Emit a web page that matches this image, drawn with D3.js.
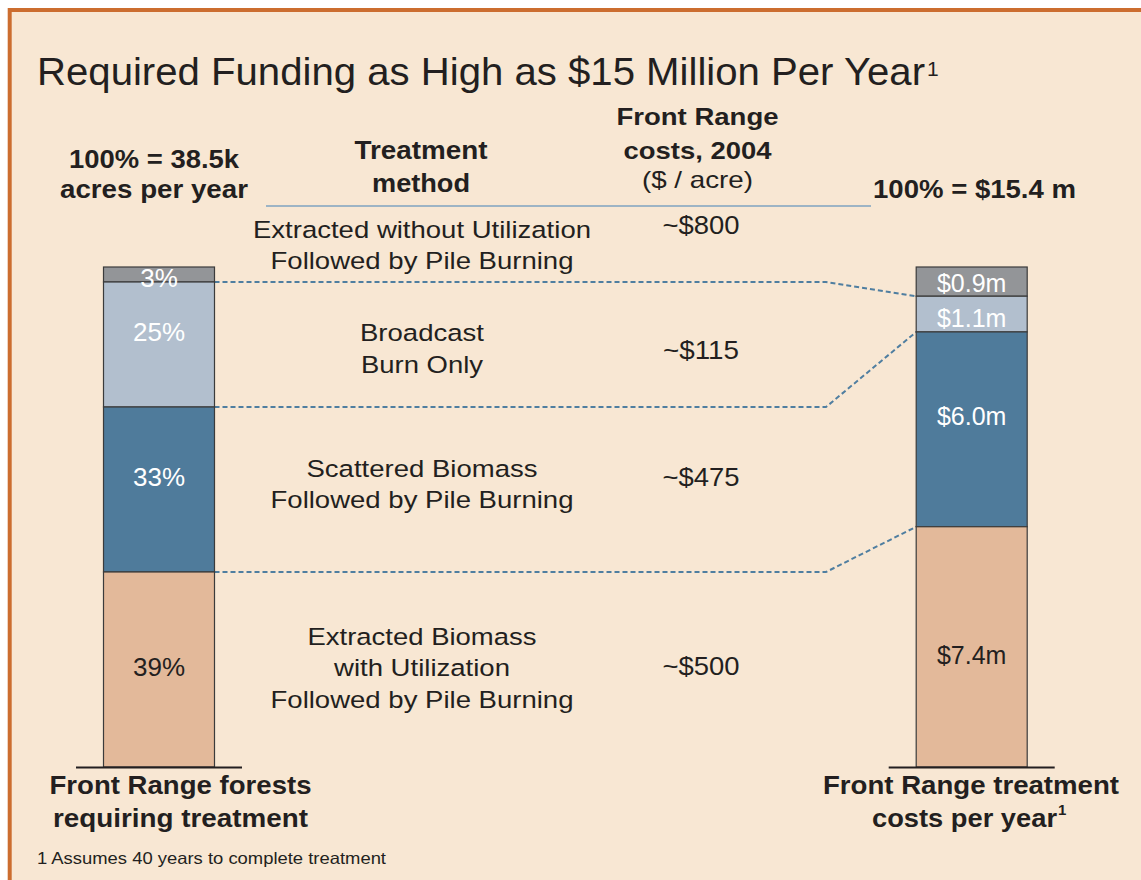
<!DOCTYPE html>
<html>
<head>
<meta charset="utf-8">
<script src="https://cdn.jsdelivr.net/npm/d3@7"></script>
<style>
body { margin: 0; background: #fff; }
svg text { font-family: "Liberation Sans", Arial, Helvetica, sans-serif; }
</style>
</head>
<body>
<svg id="chart"></svg>
<script>
// treatment methods, top of the stack first
var methods = [
    ["Extracted without Utilization", "Followed by Pile Burning"],
    ["Broadcast", "Burn Only"],
    ["Scattered Biomass", "Followed by Pile Burning"],
    ["Extracted Biomass", "with Utilization", "Followed by Pile Burning"]
];
var costPerAcre = ["~$800", "~$115", "~$475", "~$500"];
var acresShare = [3, 25, 33, 39];        // % of 38.5k acres per year
var yearlyCost = [0.9, 1.1, 6.0, 7.4];    // $ m per year
var acresLabels = ["3%", "25%", "33%", "39%"];
var costLabels = ["$0.9m", "$1.1m", "$6.0m", "$7.4m"];
var acresTotal = 100;
var costTotal = 15.4;

var width = 1141;
var height = 880;
var colors = ["#939598", "#b2bfce", "#4f7b9b", "#e3b99a"];
var labelFill = ["#fff", "#fff", "#fff", "#231f20"];
var ink = "#231f20";

// measured text widths from the slide (font is a bit wider than Arial)
var fitW = {
    "Required Funding as High as $15 Million Per Year": 888,
    "100% = 38.5k": 170, "acres per year": 188, "Treatment": 133, "method": 98,
    "Front Range": 162, "costs, 2004": 148, "($ / acre)": 111, "100% = $15.4 m": 203,
    "Extracted without Utilization": 338, "Followed by Pile Burning": 303,
    "Broadcast": 124, "Burn Only": 122, "Scattered Biomass": 231,
    "Extracted Biomass": 229, "with Utilization": 176,
    "~$800": 77, "~$115": 76, "~$475": 77, "~$500": 77,
    "Front Range forests": 262, "requiring treatment": 255,
    "Front Range treatment": 296, "costs per year": 185,
    "1 Assumes 40 years to complete treatment": 349
};

var svg = d3.select("#chart")
    .attr("width", width)
    .attr("height", height);

function txt(x, y, s, size, opts) {
    opts = opts || {};
    var t = svg.append("text")
        .attr("x", x)
        .attr("y", y)
        .attr("text-anchor", opts.anchor || "middle")
        .style("font-size", size + "px")
        .style("font-weight", opts.bold ? "bold" : "normal")
        .attr("fill", opts.fill || ink)
        .text(s);
    if (fitW[s]) {
        t.attr("textLength", fitW[s]).attr("lengthAdjust", "spacingAndGlyphs");
    }
    return t;
}

// stack from the bottom up, keeping top-first order
function stackDown(vals) {
    var out = [], acc = 0;
    for (var i = vals.length - 1; i >= 0; i--) {
        out[i] = [acc, acc + vals[i]];
        acc += vals[i];
    }
    return out;
}

// panel
svg.append("rect")
    .attr("x", 9.7).attr("y", 10)
    .attr("width", width + 20).attr("height", height + 20)
    .attr("fill", "#f8e7d3")
    .attr("stroke", "#cc6d2f")
    .attr("stroke-width", 4);

// title
txt(37, 85, "Required Funding as High as $15 Million Per Year", 39, {anchor: "start"});
txt(927, 76, "1", 21, {anchor: "start"});

// headers
txt(154, 168, "100% = 38.5k", 25, {bold: true});
txt(154, 198, "acres per year", 25, {bold: true});
txt(421, 159, "Treatment", 25, {bold: true});
txt(421, 192, "method", 25, {bold: true});
txt(697.5, 125, "Front Range", 24.5, {bold: true});
txt(697.5, 159, "costs, 2004", 24.5, {bold: true});
txt(697.5, 188, "($ / acre)", 24);
txt(974.5, 198, "100% = $15.4 m", 25.5, {bold: true});

svg.append("line")
    .attr("x1", 266).attr("x2", 871)
    .attr("y1", 206).attr("y2", 206)
    .attr("stroke", "#7fa3c0")
    .attr("stroke-width", 1.5);

// scales
var barW = 111;
var x = d3.scalePoint().domain(["acres", "cost"]).range([159, 971.7]);
var yL = d3.scaleLinear().domain([0, acresTotal]).range([767, 267]);
var yR = d3.scaleLinear().domain([0, costTotal]).range([767, 267]);

var leftStack = stackDown(acresShare);
var rightStack = stackDown(yearlyCost);

function drawBar(key, stack, y, labels, nudge) {
    var x0 = x(key) - barW / 2;
    svg.selectAll(".seg-" + key)
        .data(stack)
        .enter().append("rect")
        .attr("class", "seg-" + key)
        .attr("x", x0)
        .attr("y", function (d) { return y(d[1]); })
        .attr("width", barW)
        .attr("height", function (d) { return y(d[0]) - y(d[1]); })
        .attr("fill", function (d, i) { return colors[i]; })
        .attr("stroke", "#3b3b3b")
        .attr("stroke-width", 1.2);

    stack.forEach(function (d, i) {
        var mid = (y(d[0]) + y(d[1])) / 2;
        var w = labels[i].length * 0;
        svg.append("text")
            .attr("x", x(key))
            .attr("y", mid + nudge[i])
            .attr("text-anchor", "middle")
            .style("font-size", (key === "acres" ? 26 : 25) + "px")
            .attr("fill", labelFill[i])
            .text(labels[i]);
    });

    // base line under the bar
    svg.append("line")
        .attr("x1", x(key) - 83).attr("x2", x(key) + 83)
        .attr("y1", y(0) + 0.5).attr("y2", y(0) + 0.5)
        .attr("stroke", ink)
        .attr("stroke-width", 2);
}

// connectors at the segment boundaries
var kinkX = 826;
var line = d3.line();
for (var i = 0; i < methods.length - 1; i++) {
    var yl = yL(leftStack[i][0]);
    var yr = yR(rightStack[i][0]);
    svg.append("path")
        .attr("d", line([[x("acres") + barW / 2, yl], [kinkX, yl], [x("cost") - barW / 2, yr]]))
        .attr("fill", "none")
        .attr("stroke", "#4f7ea0")
        .attr("stroke-width", 2)
        .attr("stroke-dasharray", "5,3");
}

drawBar("acres", leftStack, yL, acresLabels, [12.2, -3.3, -4, 6]);
drawBar("cost", rightStack, yR, costLabels, [10.1, 12.7, -4.5, 17.3]);

// method names and per-acre costs beside the left segments
var methodNudge = [-36.8, -3.3, -12.7, -25];
var costNudge = [-40.5, 14.3, -3.3, 5];
var lineH = 31.5;
methods.forEach(function (lines, i) {
    var mid = (yL(leftStack[i][0]) + yL(leftStack[i][1])) / 2;
    lines.forEach(function (s, j) {
        txt(422, mid + methodNudge[i] + j * lineH, s, 24.5);
    });
    txt(701, mid + costNudge[i], costPerAcre[i], 26);
});

// bottom captions
txt(180.5, 794, "Front Range forests", 25, {bold: true});
txt(180.5, 826.7, "requiring treatment", 25, {bold: true});
txt(971, 794, "Front Range treatment", 25, {bold: true});
txt(872, 826.7, "costs per year", 25, {bold: true, anchor: "start"});
txt(1058, 815, "1", 15, {bold: true, anchor: "start"});

txt(37, 864, "1 Assumes 40 years to complete treatment", 16.5, {anchor: "start"});
</script>
</body>
</html>
